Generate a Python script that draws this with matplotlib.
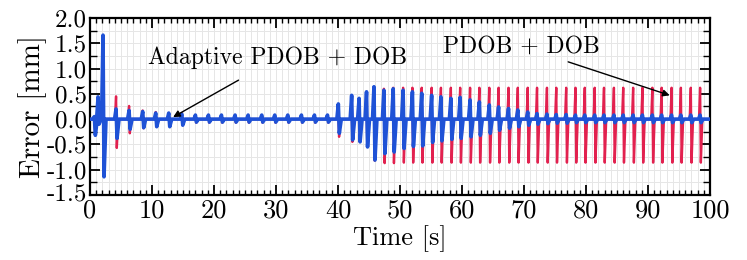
import matplotlib
matplotlib.use("Agg")
import matplotlib.pyplot as plt
import matplotlib.transforms as mtransforms
from matplotlib.ticker import MultipleLocator
import numpy as np

plt.rcParams['font.family'] = ['cmr10', 'DejaVu Serif']
plt.rcParams['axes.unicode_minus'] = False
plt.rcParams['mathtext.fontset'] = 'cm'

# ---- data: oscillation cycles (time of each spike) ----
cycle_t = [0.7, 1.3, 2.1, 4.2, 6.3, 8.5, 10.6, 12.7, 14.8, 17.0, 19.1, 21.2,
           23.4, 25.5, 27.7, 29.8, 31.9, 34.1, 36.2, 38.3, 40.05, 42.2, 43.4,
           44.6, 45.8, 47.4, 48.9, 50.5, 52.0, 53.5, 55.1, 56.6, 58.2, 59.7,
           61.3, 62.8, 64.4, 65.9, 67.5, 69.0, 70.6, 72.1, 73.7, 75.2, 76.8,
           78.3, 79.8, 81.4, 82.9, 84.5, 86.0, 87.6, 89.1, 90.7, 92.2, 93.8,
           95.3, 96.9, 98.4]

# PDOB + DOB (red): peak / trough of each cycle [mm]
red_hi = [0.03, 0.30, 0.90, 0.45, 0.26, 0.17, 0.14, 0.12, 0.12, 0.08, 0.08, 0.08,
          0.08, 0.08, 0.08, 0.08, 0.08, 0.08, 0.08, 0.08, 0.25, 0.45, 0.40,
          0.52, 0.60, 0.60, 0.62, 0.62, 0.62, 0.62, 0.62, 0.62, 0.62, 0.62,
          0.62, 0.62, 0.62, 0.62, 0.62, 0.62, 0.62, 0.62, 0.62, 0.62, 0.62,
          0.62, 0.62, 0.62, 0.62, 0.62, 0.62, 0.62, 0.62, 0.62, 0.62, 0.62,
          0.62, 0.62, 0.62]
red_lo = [-0.25, -0.08, -0.90, -0.57, -0.28, -0.18, -0.15, -0.12, -0.12, -0.07, -0.07, -0.07,
          -0.07, -0.07, -0.07, -0.07, -0.07, -0.07, -0.07, -0.07, -0.35, -0.45, -0.45,
          -0.55, -0.82, -0.87, -0.87, -0.86, -0.86, -0.86, -0.86, -0.86, -0.86, -0.86,
          -0.86, -0.86, -0.86, -0.86, -0.86, -0.86, -0.86, -0.86, -0.86, -0.86, -0.86,
          -0.86, -0.86, -0.86, -0.86, -0.86, -0.86, -0.86, -0.86, -0.86, -0.86, -0.86,
          -0.86, -0.86, -0.86]

# Adaptive PDOB + DOB (blue)
blue_hi = [0.05, 0.44, 1.66, 0.20, 0.17, 0.15, 0.12, 0.12, 0.10, 0.08, 0.08, 0.08,
           0.08, 0.08, 0.08, 0.08, 0.08, 0.08, 0.08, 0.08, 0.30, 0.47, 0.41,
           0.54, 0.64, 0.57, 0.60, 0.57, 0.54, 0.51, 0.47, 0.44, 0.41, 0.43,
           0.38, 0.34, 0.28, 0.24, 0.21, 0.18, 0.14, 0.11, 0.10, 0.09, 0.09,
           0.08, 0.08, 0.08, 0.08, 0.08, 0.08, 0.08, 0.08, 0.08, 0.08, 0.08,
           0.08, 0.08, 0.08]
blue_lo = [-0.32, -0.10, -1.14, -0.38, -0.20, -0.17, -0.15, -0.15, -0.12, -0.06, -0.06, -0.06,
           -0.06, -0.06, -0.06, -0.06, -0.06, -0.06, -0.06, -0.06, -0.28, -0.41, -0.45,
           -0.55, -0.81, -0.68, -0.65, -0.58, -0.54, -0.53, -0.46, -0.43, -0.40, -0.38,
           -0.35, -0.32, -0.28, -0.22, -0.18, -0.15, -0.12, -0.10, -0.09, -0.08, -0.08,
           -0.07, -0.07, -0.07, -0.07, -0.07, -0.07, -0.07, -0.07, -0.07, -0.07, -0.07,
           -0.07, -0.07, -0.07]

x_ticks = [0, 10, 20, 30, 40, 50, 60, 70, 80, 90, 100]
y_ticks = [-1.5, -1.0, -0.5, 0.0, 0.5, 1.0, 1.5, 2.0]

RED = '#e2214f'
BLUE = '#1f52d6'


def trace(ts, hi, lo, w):
    xs, ys = [0.0], [0.0]
    for t, h, l in zip(ts, hi, lo):
        xs += [t - 1.5 * w, t, t + w, t + 3 * w]
        ys += [0.0, h, l, 0.0]
    xs.append(100.0)
    ys.append(0.0)
    return np.array(xs), np.array(ys)


fig = plt.figure(figsize=(7.47, 2.6), dpi=100)
ax = fig.add_axes([0.1205, 0.25, 0.83, 0.681])

rx, ry = trace(cycle_t, red_hi, red_lo, 0.12)
bx, by = trace(cycle_t, blue_hi, blue_lo, 0.16)
ax.plot(rx, ry, color=RED, lw=1.7, zorder=3)
ax.plot(bx, by, color=BLUE, lw=2.6, zorder=4)

ax.set_xlim(0, 100)
ax.set_ylim(-1.5, 2.0)
ax.set_xticks(x_ticks)
ax.set_yticks(y_ticks)
ax.set_xticklabels([str(v) for v in x_ticks])
ax.set_yticklabels([f"{v:.1f}" for v in y_ticks])
ax.xaxis.set_minor_locator(MultipleLocator(1))
ax.yaxis.set_minor_locator(MultipleLocator(0.25))
ax.grid(which='both', color='#e6e6e6', lw=0.7, zorder=0)
ax.set_axisbelow(True)

ax.tick_params(which='both', direction='in', top=True, right=True, pad=2)
ax.tick_params(axis='x', which='both', pad=3, labelsize=19)
ax.tick_params(axis='y', which='both', labelsize=18)
ax.tick_params(which='major', length=7, width=1.3)
ax.tick_params(which='minor', length=3.5, width=1.0)
ax.tick_params(axis='y', which='minor', length=5)
for s in ax.spines.values():
    s.set_linewidth(1.6)

# lift the lowest y label slightly, as in the reference
lowest = ax.get_yticklabels()[0]
lowest.set_transform(lowest.get_transform() +
                     mtransforms.ScaledTranslation(0, 2 / 72, fig.dpi_scale_trans))

ax.set_xlabel('Time [s]', fontsize=19, labelpad=2)
ax.set_ylabel('Error [mm]', fontsize=21, labelpad=0)

ax.annotate('Adaptive PDOB + DOB', xy=(13.4, 0.04), xytext=(30.3, 1.21),
            ha='center', va='center', fontsize=17, zorder=6,
            arrowprops=dict(arrowstyle='-|>', color='black', lw=1.0,
                            mutation_scale=10, shrinkA=12, shrinkB=0))
ax.annotate('PDOB + DOB', xy=(93.5, 0.47), xytext=(69.5, 1.44),
            ha='center', va='center', fontsize=17, zorder=6,
            arrowprops=dict(arrowstyle='-|>', color='black', lw=1.0,
                            mutation_scale=10, shrinkA=4, shrinkB=0))

fig.savefig('out.png', dpi=100)
